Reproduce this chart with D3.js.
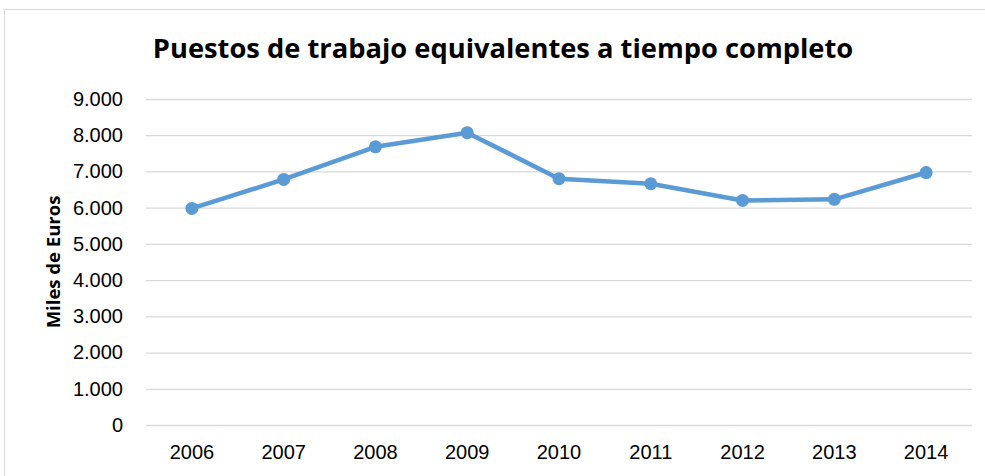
<!DOCTYPE html>
<html>
<head>
<meta charset="utf-8">
<script src="https://cdn.jsdelivr.net/npm/d3@7"></script>
<style>
  body { margin: 0; background: #fff; }
  svg { display: block; font-family: "Open Sans", "Noto Sans", sans-serif; }
</style>
</head>
<body>
<div id="chart"></div>
<script>
// datos
var anios = ["2006", "2007", "2008", "2009", "2010", "2011", "2012", "2013", "2014"];
var puestos = [5980, 6780, 7680, 8070, 6800, 6660, 6200, 6230, 6970];
var ticksY = [0, 1000, 2000, 3000, 4000, 5000, 6000, 7000, 8000, 9000];

var width = 985, height = 476;
var margin = { top: 99, right: 13, bottom: 51, left: 146 },
    w = width - margin.left - margin.right,
    h = height - margin.top - margin.bottom;

var svg = d3.select("#chart").append("svg")
    .attr("width", width)
    .attr("height", height);

// borde del area del grafico
svg.append("rect")
    .attr("x", 4.5).attr("y", 9.5)
    .attr("width", 1000).attr("height", 500)
    .attr("fill", "none")
    .attr("stroke", "#d9d9d9");

svg.append("text")
    .attr("x", 503).attr("y", 58)
    .attr("text-anchor", "middle")
    .attr("font-size", 27.3)
    .attr("font-weight", "bold")
    .attr("fill", "#000")
    .text("Puestos de trabajo equivalentes a tiempo completo");

var g = svg.append("g")
    .attr("transform", "translate(" + margin.left + "," + margin.top + ")");

var x = d3.scaleBand().domain(anios).range([0, w]);
var y = d3.scaleLinear().domain([0, 9000]).range([h, 0]);

var fmt = function(d) { return d3.format(",")(d).replace(/,/g, "."); };

var yAxis = d3.axisLeft(y)
    .tickValues(ticksY)
    .tickSize(-w)
    .tickPadding(23)
    .tickFormat(fmt);

var gy = g.append("g").call(yAxis);
gy.select(".domain").remove();
gy.selectAll("line").attr("stroke", "#d9d9d9").attr("stroke-width", 1.3);
gy.selectAll("text").attr("font-size", 20).attr("fill", "#000");

var xAxis = d3.axisBottom(x).tickSize(0).tickPadding(20);
var gx = g.append("g").attr("transform", "translate(0," + h + ")").call(xAxis);
gx.select(".domain").remove();
gx.selectAll("text").attr("font-size", 20).attr("fill", "#000");

svg.append("text")
    .attr("transform", "translate(60," + (margin.top + h / 2) + ") rotate(-90)")
    .attr("text-anchor", "middle")
    .attr("font-size", 18.5)
    .attr("font-weight", "bold")
    .text("Miles de Euros");

var linea = d3.line()
    .x(function(d, i) { return x(anios[i]) + x.bandwidth() / 2; })
    .y(function(d) { return y(d); });

g.append("path")
    .datum(puestos)
    .attr("d", linea)
    .attr("fill", "none")
    .attr("stroke", "#5b9bd5")
    .attr("stroke-width", 4.5)
    .attr("stroke-linejoin", "round");

g.selectAll(".punto")
    .data(puestos)
    .enter().append("circle")
    .attr("class", "punto")
    .attr("cx", function(d, i) { return x(anios[i]) + x.bandwidth() / 2; })
    .attr("cy", function(d) { return y(d); })
    .attr("r", 6.5)
    .attr("fill", "#5b9bd5");
</script>
</body>
</html>
